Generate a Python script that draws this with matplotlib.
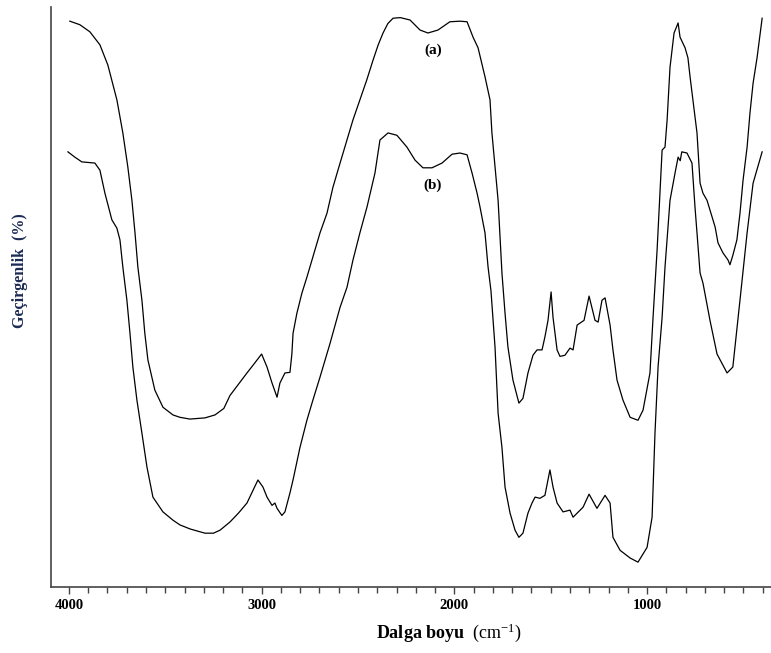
import matplotlib
matplotlib.use("Agg")
import matplotlib.pyplot as plt
from matplotlib.ticker import MultipleLocator, FixedLocator

plt.rcParams['mathtext.fontset'] = 'custom'
plt.rcParams['mathtext.rm'] = 'Liberation Serif'
plt.rcParams['mathtext.bf'] = 'Liberation Serif:bold'
plt.rcParams['mathtext.it'] = 'Liberation Serif:italic'

# Spectrum (a): wavenumber (cm-1) and transmittance (arbitrary %)
wn_a = [3995, 3943, 3891, 3839, 3798, 3751, 3720, 3694, 3673, 3657, 3642, 3621,
        3606, 3590, 3554, 3512, 3460, 3424, 3372, 3294, 3242, 3196, 3164, 3120,
        3076, 3040, 3000, 2972, 2946, 2920, 2905, 2879, 2853, 2843, 2837, 2817,
        2791, 2765, 2734, 2697, 2661, 2630, 2593, 2557, 2526, 2490, 2455, 2422,
        2395, 2370, 2345, 2318, 2280, 2230, 2178, 2137, 2085, 2023, 1971, 1934,
        1903, 1877, 1841, 1815, 1805, 1789, 1773, 1753, 1737, 1722, 1696, 1665,
        1644, 1618, 1592, 1571, 1545, 1530, 1514, 1498, 1488, 1467, 1452, 1426,
        1400, 1384, 1363, 1327, 1301, 1270, 1254, 1234, 1218, 1192, 1177, 1156,
        1125, 1088, 1047, 1021, 985, 969, 948, 933, 922, 907, 896, 881, 860, 839,
        829, 803, 788, 777, 762, 741, 725, 710, 689, 663, 647, 632, 606, 580,
        570, 555, 534, 518, 502, 481, 466, 450, 429, 403]
tr_a = [97.6, 97.0, 95.8, 93.6, 90.2, 84.3, 78.7, 72.9, 67.3, 61.8, 56.0, 50.4,
        44.8, 40.3, 35.2, 32.3, 31.0, 30.6, 30.3, 30.5, 31.0, 32.1, 34.3, 36.2,
        38.1, 39.6, 41.3, 39.1, 36.4, 34.0, 36.4, 38.1, 38.2, 41.3, 44.8, 48.2,
        51.6, 54.3, 57.7, 61.8, 65.1, 69.5, 73.6, 77.5, 80.9, 84.3, 87.6, 91.0,
        93.6, 95.6, 97.2, 98.1, 98.2, 97.8, 96.1, 95.6, 96.1, 97.5, 97.6, 97.5,
        94.9, 93.1, 88.2, 84.3, 78.7, 72.9, 67.3, 55.0, 48.2, 42.5, 36.9, 33.0,
        33.8, 38.1, 41.1, 42.0, 42.0, 44.2, 47.0, 51.8, 47.5, 42.0, 40.9, 41.1,
        42.3, 42.0, 46.2, 47.0, 51.1, 47.0, 46.7, 50.4, 50.8, 46.2, 42.0, 36.9,
        33.5, 30.6, 30.1, 31.8, 38.1, 47.5, 58.9, 68.5, 75.8, 76.3, 80.9, 89.8,
        95.6, 97.3, 94.9, 93.1, 91.4, 88.2, 84.3, 78.7, 70.2, 68.5, 67.3, 64.5,
        62.8, 60.1, 58.4, 57.2, 56.4, 58.0, 60.6, 65.1, 70.7, 76.3, 82.1, 87.1,
        91.5, 98.1]

# Spectrum (b)
wn_b = [4005, 3969, 3933, 3865, 3839, 3813, 3777, 3751, 3735, 3720, 3699, 3683,
        3668, 3647, 3621, 3595, 3564, 3512, 3460, 3424, 3370, 3294, 3250, 3216,
        3164, 3120, 3076, 3019, 2993, 2972, 2946, 2931, 2920, 2895, 2879, 2853,
        2837, 2801, 2765, 2734, 2697, 2645, 2593, 2557, 2526, 2490, 2453, 2412,
        2386, 2344, 2298, 2246, 2204, 2163, 2116, 2064, 2012, 1971, 1934, 1908,
        1882, 1867, 1841, 1825, 1810, 1789, 1773, 1753, 1737, 1711, 1685, 1665,
        1644, 1618, 1597, 1581, 1556, 1530, 1504, 1488, 1467, 1436, 1400, 1384,
        1332, 1301, 1260, 1218, 1192, 1177, 1140, 1088, 1047, 1000, 974, 959,
        943, 922, 907, 881, 855, 839, 828, 820, 793, 767, 751, 741, 725, 710,
        673, 637, 585, 555, 518, 481, 450, 403]
tr_b = [75.5, 74.6, 73.8, 73.6, 72.4, 68.5, 64.0, 62.6, 60.6, 56.0, 50.4, 44.8,
        39.1, 33.5, 27.9, 22.2, 17.1, 14.6, 13.2, 12.4, 11.7, 11.0, 11.0, 11.5,
        12.9, 14.4, 16.1, 20.0, 18.8, 17.1, 15.7, 16.1, 15.2, 14.0, 14.6, 17.8,
        20.0, 25.5, 30.1, 33.5, 37.4, 43.1, 49.2, 52.6, 57.2, 61.8, 66.2, 71.9,
        77.5, 78.7, 78.3, 76.3, 74.1, 72.8, 72.8, 73.6, 75.1, 75.3, 75.0, 71.9,
        68.5, 66.2, 61.8, 56.0, 52.0, 42.5, 31.3, 25.5, 18.8, 14.4, 11.5, 10.3,
        11.0, 14.4, 16.1, 17.1, 16.9, 17.4, 21.7, 18.8, 16.1, 14.6, 14.9, 13.7,
        15.4, 17.6, 15.2, 17.4, 16.1, 10.3, 8.1, 6.8, 6.1, 8.6, 13.7, 27.9,
        39.1, 47.5, 56.0, 67.3, 71.9, 74.6, 74.0, 75.5, 75.3, 73.6, 66.0, 61.8,
        55.0, 53.3, 46.9, 41.3, 38.1, 39.1, 50.4, 61.8, 70.2, 75.5]

labels = ["(a)", "(b)"]
label_pos_x = [2111, 2111]
label_pos_y = [92.7, 69.9]
major_ticks = [4000, 3000, 2000, 1000]

fig = plt.figure(figsize=(7.71, 6.53), dpi=100)
ax = fig.add_axes([0.0661, 0.1011, 0.9339, 0.8882])

ax.plot(wn_a, tr_a, color='black', lw=0.9)
ax.plot(wn_b, tr_b, color='black', lw=0.9)

for lab, lx, ly in zip(labels, label_pos_x, label_pos_y):
    ax.text(lx, ly, lab, fontfamily='Liberation Serif', fontweight='bold',
            fontsize=11, ha='center', va='center')

ax.set_xlim(4093, 357)
ax.set_ylim(1.9, 100)

ax.spines['top'].set_visible(False)
ax.spines['right'].set_visible(False)
for s in ['left', 'bottom']:
    ax.spines[s].set_color('#444444')
    ax.spines[s].set_linewidth(1.2)

ax.set_yticks([])
ax.xaxis.set_major_locator(FixedLocator(major_ticks))
ax.xaxis.set_minor_locator(MultipleLocator(100))
ax.tick_params(axis='x', which='both', direction='out', length=5, width=1.0,
               color='#444444', pad=4)
ax.tick_params(axis='x', which='minor', length=4)
ax.set_xticklabels([str(v) for v in major_ticks], fontfamily='Liberation Serif',
                   fontweight='bold', fontsize=10.5)

fig.text(449 / 771, 1 - 633 / 653, r'$\mathbf{Dalga\ boyu}$  (cm$^{-1}$)',
         fontfamily='Liberation Serif', fontsize=13, ha='center', va='center')
fig.text(20 / 771, 1 - 271 / 653, 'Geçirgenlik  (%)', rotation=90,
         fontfamily='Liberation Serif', fontweight='bold', fontsize=11.5,
         color='#1c2b55', ha='center', va='center')

fig.savefig('out.png', dpi=100)
